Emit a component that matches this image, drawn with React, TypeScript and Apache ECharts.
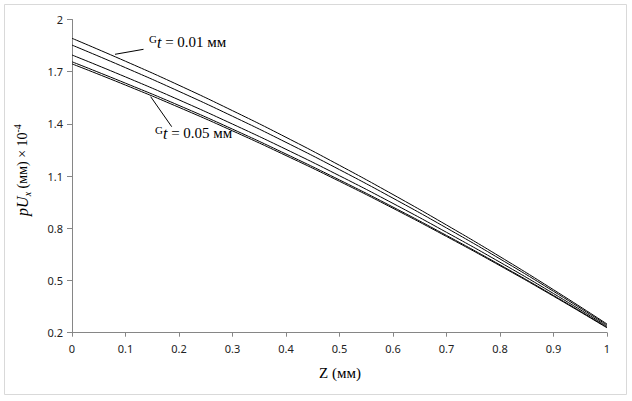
import React, { useEffect, useRef } from "react";
import * as echarts from "echarts";

const zValues = [0, 0.1, 0.2, 0.3, 0.4, 0.5, 0.6, 0.7, 0.8, 0.9, 1];
const line001 = [1.892, 1.76, 1.622, 1.476, 1.323, 1.162, 0.994, 0.819, 0.637, 0.447, 0.25];
const line002 = [1.853, 1.723, 1.587, 1.444, 1.294, 1.137, 0.973, 0.802, 0.624, 0.438, 0.244];
const line003 = [1.796, 1.67, 1.538, 1.399, 1.254, 1.102, 0.943, 0.777, 0.605, 0.425, 0.237];
const line004 = [1.757, 1.634, 1.506, 1.37, 1.227, 1.078, 0.922, 0.759, 0.59, 0.414, 0.231];
const line005 = [1.745, 1.623, 1.495, 1.36, 1.218, 1.07, 0.915, 0.753, 0.585, 0.41, 0.228];
const allLines = [line001, line002, line003, line004, line005];
const yTicks = [0.2, 0.5, 0.8, 1.1, 1.4, 1.7, 2];

export default function App() {
  const ref = useRef<HTMLDivElement>(null);
  useEffect(() => {
    document.body.style.margin = "0";
    const chart = echarts.init(ref.current!, null, { renderer: "svg" });
    const serif = "'Liberation Serif', 'Times New Roman', serif";
    const lbl = (value: string) => ({
      text: `{g|G}{t|t}{n| = ${value} мм}`,
      rich: {
        g: { fontFamily: serif, fontSize: 11, fill: "#000", verticalAlign: "top", lineHeight: 18 },
        t: { fontFamily: serif, fontSize: 16, fontStyle: "italic", fill: "#000", lineHeight: 18 },
        n: { fontFamily: serif, fontSize: 15, fill: "#000", lineHeight: 18 },
      },
    });
    chart.setOption({
      animation: false,
      grid: { left: 72, right: 25, top: 19.5, bottom: 68.3, containLabel: false },
      xAxis: {
        type: "value",
        min: 0,
        max: 1,
        interval: 0.1,
        axisLine: { show: true, lineStyle: { color: "#868686", width: 1 } },
        axisTick: { show: true, length: 4, lineStyle: { color: "#868686" } },
        splitLine: { show: false },
        axisLabel: {
          margin: 10,
          fontFamily: "Noto Sans",
          fontSize: 11,
          color: "#222",
          formatter: (v: number) => String(+v.toFixed(1)),
        },
      },
      yAxis: {
        type: "value",
        min: 0.2,
        max: 2,
        axisLine: { show: true, lineStyle: { color: "#868686", width: 1 } },
        axisTick: { show: true, length: 5, customValues: yTicks, lineStyle: { color: "#868686" } },
        splitLine: { show: false },
        axisLabel: {
          customValues: yTicks,
          margin: 9,
          fontFamily: "Noto Sans",
          fontSize: 11,
          color: "#222",
          formatter: (v: number) => String(+v.toFixed(1)),
        },
      },
      series: allLines.map((vals, i) => ({
        type: "line",
        name: "s" + i,
        data: zValues.map((z, j) => [z, vals[j]]),
        symbol: "none",
        smooth: true,
        lineStyle: { color: "#000", width: 1 },
      })),
      graphic: [
        {
          type: "rect",
          shape: { x: 4.5, y: 4.5, width: 622, height: 390 },
          style: { fill: "none", stroke: "#d9d9d9", lineWidth: 1 },
          silent: true,
        },
        {
          type: "line",
          shape: { x1: 115, y1: 54.3, x2: 143.5, y2: 49.3 },
          style: { stroke: "#000", lineWidth: 1 },
        },
        {
          type: "line",
          shape: { x1: 150.7, y1: 96.7, x2: 171.7, y2: 126.7 },
          style: { stroke: "#000", lineWidth: 1 },
        },
        {
          type: "text",
          x: 149,
          y: 42,
          style: { ...lbl("0.01"), align: "left", verticalAlign: "middle" },
        },
        {
          type: "text",
          x: 155,
          y: 133,
          style: { ...lbl("0.05"), align: "left", verticalAlign: "middle" },
        },
        {
          type: "text",
          x: 340,
          y: 373,
          style: {
            text: "Z (мм)",
            fontFamily: serif,
            fontSize: 15,
            fill: "#000",
            align: "center",
            verticalAlign: "middle",
          },
        },
        {
          type: "text",
          x: 22,
          y: 170,
          rotation: Math.PI / 2,
          style: {
            text: "{i|pU}{s|x}{n| (мм) × 10}{p|-4}",
            align: "center",
            verticalAlign: "middle",
            rich: {
              i: { fontFamily: serif, fontSize: 16, fontStyle: "italic", fill: "#000", lineHeight: 20 },
              s: { fontFamily: serif, fontSize: 10, fontStyle: "italic", fill: "#000", verticalAlign: "bottom", lineHeight: 20 },
              n: { fontFamily: serif, fontSize: 14, fill: "#000", lineHeight: 20 },
              p: { fontFamily: serif, fontSize: 10, fill: "#000", verticalAlign: "top", lineHeight: 20 },
            },
          },
        },
      ],
    });
    return () => chart.dispose();
  }, []);
  return <div ref={ref} style={{ width: 632, height: 401 }} />;
}
